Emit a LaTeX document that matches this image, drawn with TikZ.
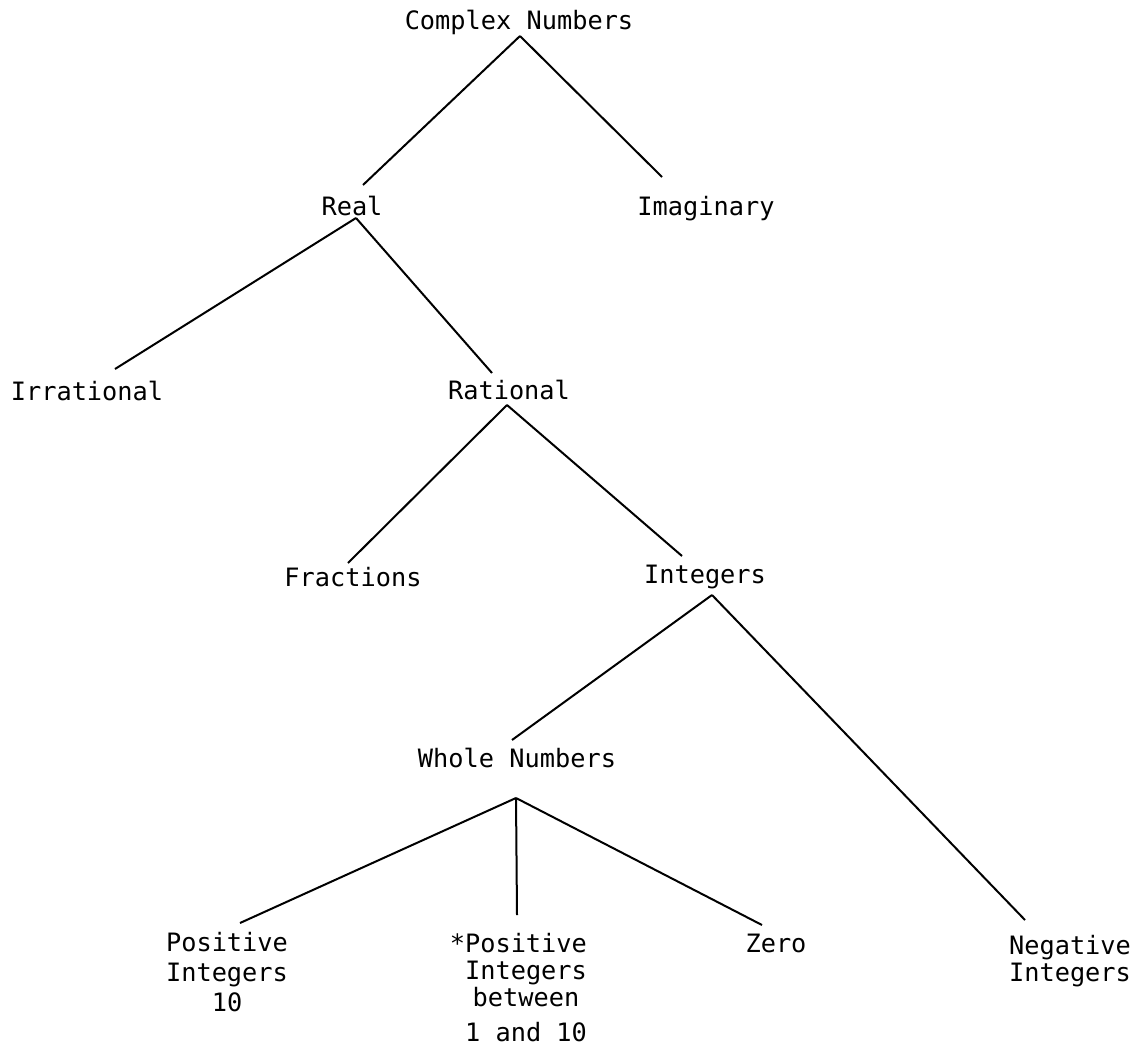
\documentclass[tikz,border=0pt]{standalone}
\usepackage{fontspec}
\setmonofont{DejaVu Sans Mono}

\begin{document}
\begin{tikzpicture}[x=1pt, y=-1pt, line width=2pt,
		every node/.style={inner sep=0pt, font=\ttfamily\fontsize{25.3}{28}\selectfont}]
		\useasboundingbox (0,0) rectangle (1143,1049);
		
		%Ebenen
		\node[anchor=base] (cplx) at (519,30) {Complex Numbers};
		\node[anchor=base] (real) at (352,215) {Real};
		\node[anchor=base] (imag) at (706,215) {Imaginary};
		\node[anchor=base] (irr) at (87,400) {Irrational};
		\node[anchor=base] (rat) at (509,399) {Rational};
		\node[anchor=base] (frac) at (353,586) {Fractions};
		\node[anchor=base] (integ) at (705,583) {Integers};
		\node[anchor=base] (whole) at (517,767) {Whole Numbers};
		\node[anchor=north, align=center] (pos) at (227,931) {Positive\\[2pt]Integers\\[2pt]10};
		\node[anchor=north, align=center] (posten) at (526,932) {\llap{*}Positive\\[-1pt]Integers\\[-1pt]between\\[7pt]1 and 10};
		\node[anchor=base] (zero) at (776,952) {Zero};
		\node[anchor=north, align=center] (neg) at (1070,934) {Negative\\[-1pt]Integers};
		
		%Verbindungen
		\foreach \from/\fs/\to/\ts in {
			cplx.base/{1,6}/real.base/{11,-30},
			cplx.base/{1,6}/imag.base/{-44,-38},
			real.base/{4,3}/irr.base/{28,-31},
			real.base/{4,3}/rat.base/{-17,-26},
			rat.base/{-2,6}/frac.base/{-5,-23},
			rat.base/{-2,6}/integ.base/{-23,-27},
			integ.base/{7,12}/whole.base/{-5,-27},
			integ.base/{7,12}/neg.north/{-45,-14},
			whole.base/{-1,31}/pos.north/{13,-8},
			whole.base/{-1,31}/posten.north/{-9,-17},
			whole.base/{-1,31}/zero.base/{-14,-27}} {
			\draw ([shift={(\fs)}]\from) -- ([shift={(\ts)}]\to);
		}
	\end{tikzpicture}
\end{document}
